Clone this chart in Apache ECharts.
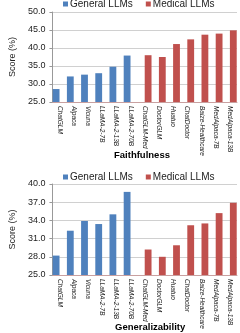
<!DOCTYPE html>
<html><head><meta charset="utf-8">
<script src="https://cdn.jsdelivr.net/npm/echarts@6/dist/echarts.min.js"></script>
<style>html,body{margin:0;padding:0;background:#fff}#c{width:240px;height:333px}</style>
</head><body><div id="c"></div>
<script>
const categories = ['ChatGLM','Alpaca','Vicuna','LLaMA-2-7B','LLaMA-2-13B','LLaMA-2-70B','ChatGLM-Med','DoctorGLM','Huatuo','ChatDoctor','Baize-Healthcare','MedAlpaca-7B','MedAlpaca-13B'];
const faithGeneral = [28.6,32.1,32.6,33.0,34.8,37.9,null,null,null,null,null,null,null];
const faithMedical = [null,null,null,null,null,null,38.0,37.5,41.1,42.4,43.7,44.0,44.9];
const genGeneral = [28.2,32.3,33.9,33.4,35.0,38.7,null,null,null,null,null,null,null];
const genMedical = [null,null,null,null,null,null,29.2,28.0,29.9,33.2,33.5,35.2,36.9];
const titles = ['Faithfulness','Generalizability'];
const seriesNames = ['General LLMs','Medical LLMs'];

const BLUE = '#4F81BD', RED = '#C0504D';
const FF = 'Liberation Sans';
const chart = echarts.init(document.getElementById('c'));
const xAxisBase = gi => ({
  type:'category', gridIndex:gi, data:categories,
  axisLine:{lineStyle:{color:'#c8a0a0'}}, axisTick:{show:false},
  axisLabel:{interval:0, rotate:-90, fontSize:6.5, fontStyle:'italic', color:'#222', margin:4, fontFamily:FF}
});
const yAxisBase = (gi,min,max,iv) => ({
  type:'value', gridIndex:gi, min, max, interval:iv,
  name:'Score (%)', nameLocation:'middle', nameGap:24, nameRotate:90,
  nameTextStyle:{fontSize:9, color:'#222', fontFamily:FF},
  axisLine:{show:true, lineStyle:{color:'#999'}},
  axisTick:{show:true, inside:false, length:3, lineStyle:{color:'#999'}},
  splitLine:{lineStyle:{color:'#d0d0d0'}},
  axisLabel:{fontSize:9, color:'#222', margin:7, fontFamily:FF, formatter:v=>v.toFixed(1)}
});
const bar = (name, data, gi, color) => ({
  name, type:'bar', data, xAxisIndex:gi, yAxisIndex:gi,
  itemStyle:{color}, barGap:'0%', barCategoryGap:'4%', animation:false
});
const legendBase = top => ({
  top, left:63, padding:0, itemWidth:5, itemHeight:5, itemGap:13, icon:'rect', data:seriesNames,
  textStyle:{fontSize:10, color:'#222', padding:[0,0,0,-3], fontFamily:FF}
});
chart.setOption({
  animation:false,
  title:[
    {text:titles[0], left:114, top:150, padding:0, textStyle:{fontSize:9.5, fontWeight:'bold', color:'#000', fontFamily:FF}},
    {text:titles[1], left:115, top:322, padding:0, textStyle:{fontSize:9.5, fontWeight:'bold', color:'#000', fontFamily:FF}}
  ],
  legend:[legendBase(-1), legendBase(172)],
  grid:[
    {left:35, right:3, top:12, height:90},
    {left:35, right:3, top:184, height:91}
  ],
  xAxis:[xAxisBase(0), xAxisBase(1)],
  yAxis:[yAxisBase(0,25,50,5), yAxisBase(1,25,40,3)],
  series:[
    bar(seriesNames[0], faithGeneral, 0, BLUE),
    bar(seriesNames[1], faithMedical, 0, RED),
    bar(seriesNames[0], genGeneral, 1, BLUE),
    bar(seriesNames[1], genMedical, 1, RED)
  ]
});
</script></body></html>
